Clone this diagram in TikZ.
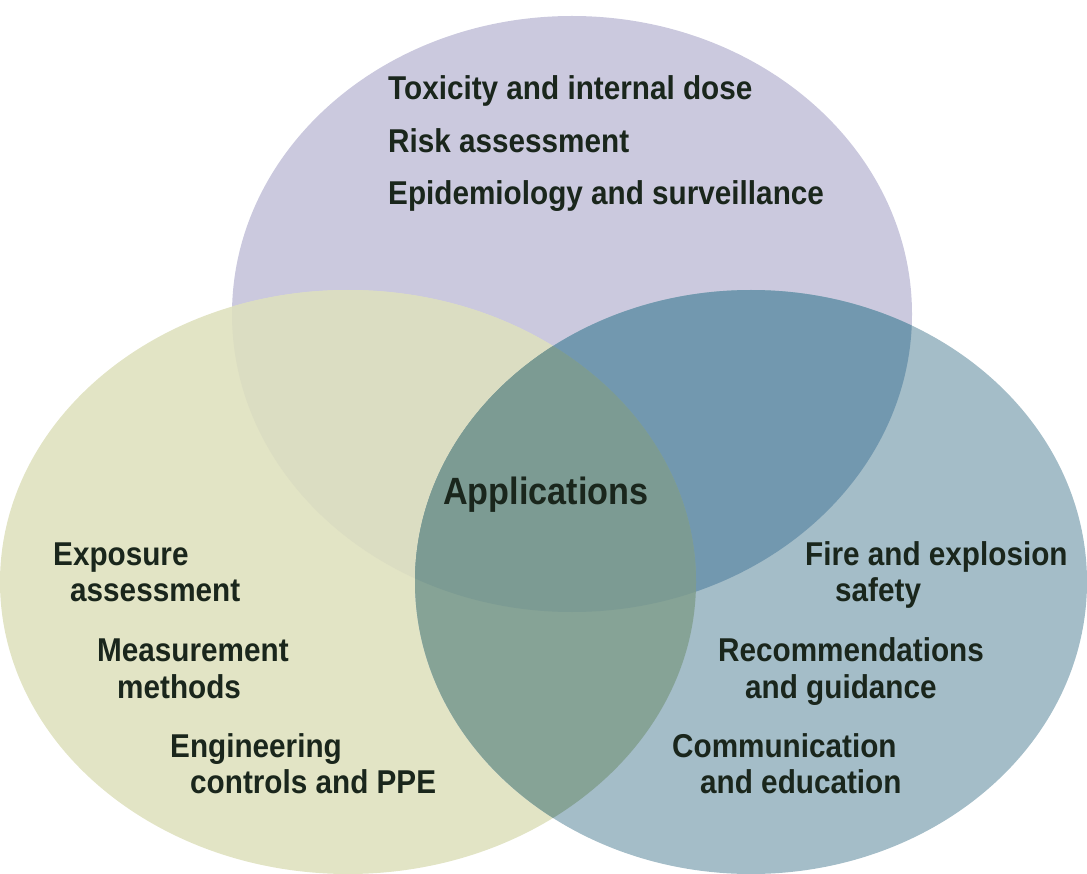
\documentclass[tikz,border=0pt]{standalone}
\usepackage{fontspec}
\setmainfont{Liberation Sans}[FakeStretch=0.9]
\usepackage{tikz}
\usetikzlibrary{positioning,calc}
\usepackage{xcolor}

\definecolor{purp}{RGB}{203,201,222}
\definecolor{yell}{RGB}{226,228,197}
\definecolor{blu}{RGB}{164,189,200}
\definecolor{yellpurp}{RGB}{219,221,194}
\definecolor{purpblu}{RGB}{114,152,175}
\definecolor{yellblu}{RGB}{134,163,150}
\definecolor{allthree}{RGB}{124,155,147}
\definecolor{txt}{RGB}{26,38,28}

\begin{document}
\begin{tikzpicture}[x=1pt,y=-1pt,
  lbl/.style={font=\bfseries\fontsize{33}{38}\selectfont, text=txt, anchor=base west, inner sep=0pt},
  biglbl/.style={font=\bfseries\fontsize{38}{44}\selectfont, text=txt, anchor=base west, inner sep=0pt}]

\useasboundingbox (0,0) rectangle (1087,874);

% Circles
\def\purpcirc{(572,314) ellipse [x radius=340, y radius=298]}
\def\yellcirc{(348,582) ellipse [x radius=348, y radius=292]}
\def\blucirc{(751,582) ellipse [x radius=336, y radius=292]}

\fill[purp] \purpcirc;
\fill[yell] \yellcirc;
\fill[blu] \blucirc;

% Overlaps
\begin{scope}
  \clip \purpcirc;
  \fill[yellpurp] \yellcirc;
  \fill[purpblu] \blucirc;
\end{scope}
\begin{scope}
  \clip \yellcirc;
  \fill[yellblu] \blucirc;
  \clip \purpcirc;
  \fill[allthree] \blucirc;
\end{scope}

% Top
\node[lbl] (tox) at (388,100) {Toxicity and internal dose};
\node[lbl] (risk) at (388,153) {Risk assessment};
\node[lbl] (epi) at (388,205) {Epidemiology and surveillance};

% Centre
\node[biglbl] (app) at (443,504) {Applications};

% Left
\node[lbl] (expo) at (53,565) {Exposure};
\node[lbl] (expob) at (70,601) {assessment};
\node[lbl] (meas) at (97,661) {Measurement};
\node[lbl] (measb) at (117,698) {methods};
\node[lbl] (eng) at (170,757) {Engineering};
\node[lbl] (engb) at (190,793) {controls and PPE};

% Right
\node[lbl] (fire) at (805,565) {Fire and explosion};
\node[lbl] (fireb) at (835,601) {safety};
\node[lbl] (rec) at (718,661) {Recommendations};
\node[lbl] (recb) at (745,698) {and guidance};
\node[lbl] (comm) at (672,757) {Communication};
\node[lbl] (commb) at (700,793) {and education};

\end{tikzpicture}
\end{document}
